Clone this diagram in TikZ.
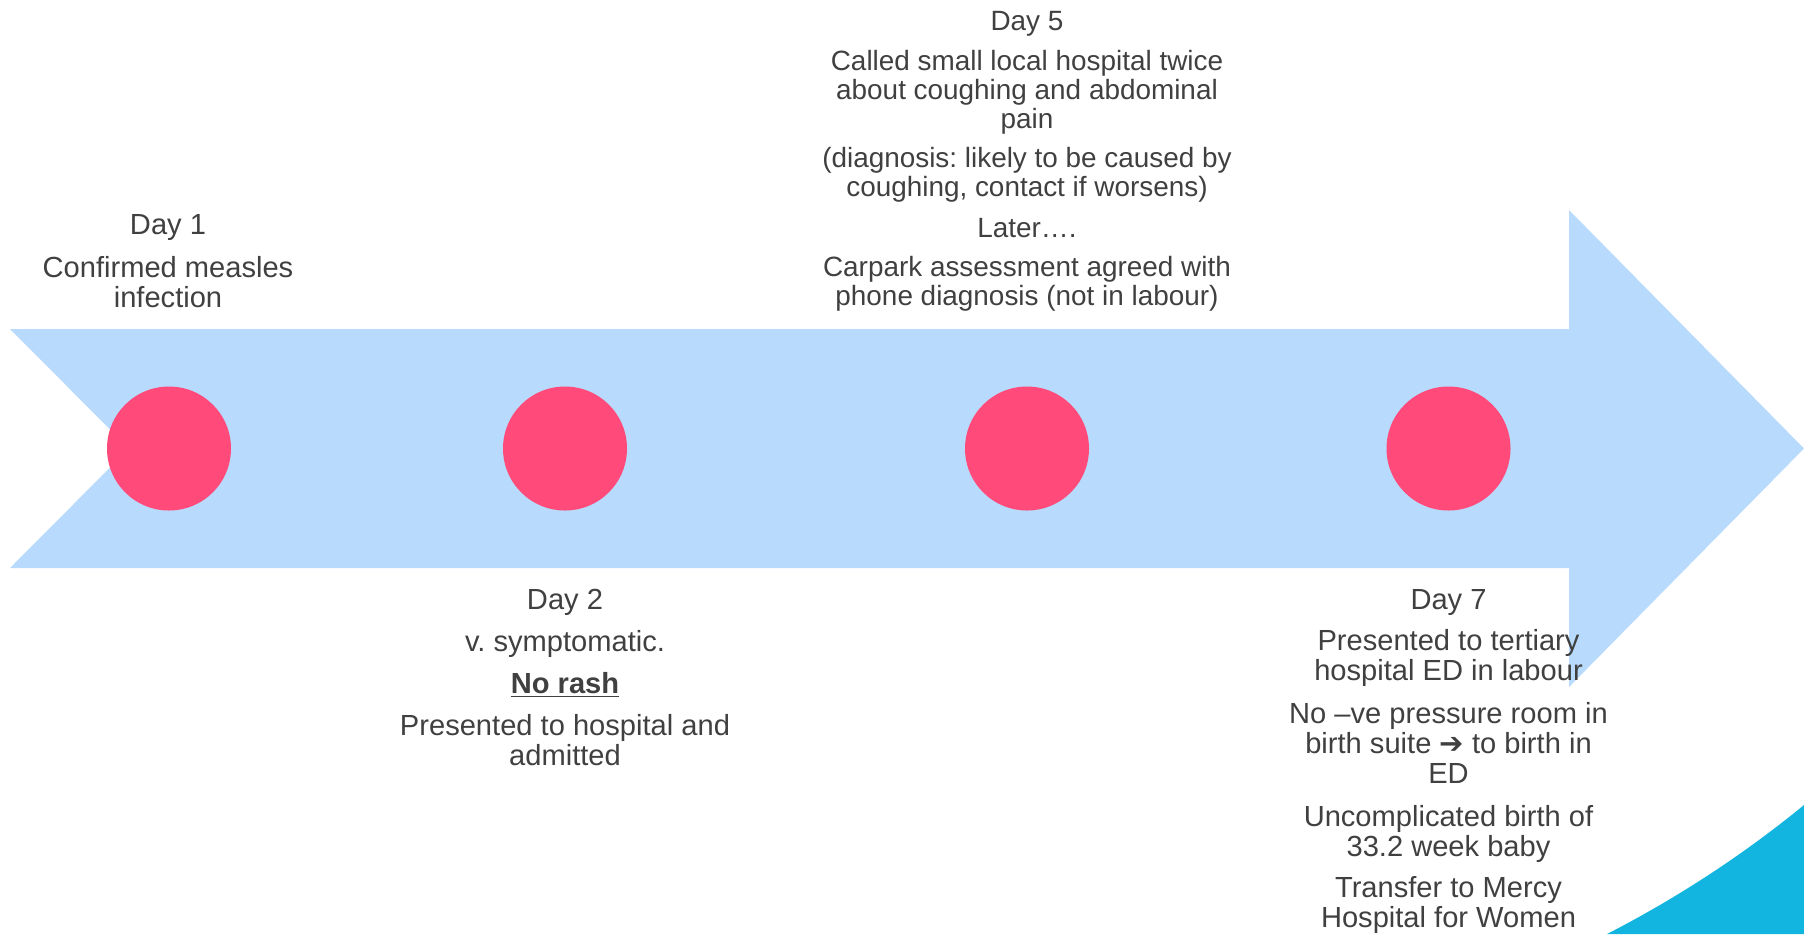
\documentclass[tikz,border=0pt]{standalone}
\usepackage{fontspec}
\setmainfont{Liberation Sans}
\newfontfamily\symfont{DejaVu Sans}
\definecolor{arrowblue}{HTML}{B8DAFC}
\definecolor{dotpink}{HTML}{FF4A7A}
\definecolor{cornercyan}{HTML}{12B4E0}
\definecolor{txtgray}{HTML}{404040}
\newcommand{\mltext}[1]{\begin{tabular}[t]{@{}c@{}}#1\end{tabular}}
\frenchspacing
\begin{document}
\begin{tikzpicture}[x=0.5pt,y=-0.5pt,
  dot/.style={circle,fill=dotpink,draw=none,minimum size=62pt,inner sep=0pt},
  big/.style={text=txtgray,font=\fontsize{14.55}{15}\selectfont,anchor=base,inner sep=0pt},
  small/.style={text=txtgray,font=\fontsize{13.95}{14.45}\selectfont,anchor=base,inner sep=0pt}]
\useasboundingbox (0,0) rectangle (1804,934);
% timeline arrow
\fill[arrowblue] (10,329) -- (1569,329) -- (1569,210) -- (1804,448.5) -- (1569,687)
  -- (1569,568) -- (10,568) -- (129,448.5) -- cycle;
% corner decoration
\fill[cornercyan] (1607,934) .. controls (1677,898) and (1743,855) .. (1804,805) -- (1804,934) -- cycle;
% milestones
\node[dot] (c1) at (169,448.5) {};
\node[dot] (c2) at (565,448.5) {};
\node[dot] (c3) at (1027,448.5) {};
\node[dot] (c4) at (1448.5,448.5) {};
% Day 1
\node[big] (d1h) at (168,234.3) {Day 1};
\node[big] (d1a) at (168,277.3) {\mltext{Confirmed measles\\infection}};
% Day 2
\node[big] (d2h) at (565,609.3) {Day 2};
\node[big] (d2a) at (565,651) {v. symptomatic.};
\node[big] (d2b) at (565,693.3) {\underline{\textbf{No rash}}};
\node[big] (d2c) at (565,735) {\mltext{Presented to hospital and\\admitted}};
% Day 5
\node[small] (d5h) at (1027,30) {Day 5};
\node[small] (d5a) at (1027,70.7) {\mltext{Called small local hospital twice\\about coughing and abdominal\\pain}};
\node[small] (d5b) at (1027,167.7) {\mltext{(diagnosis: likely to be caused by\\coughing, contact if worsens)}};
\node[small] (d5c) at (1027,237.3) {Later….};
\node[small] (d5d) at (1027,276.7) {\mltext{Carpark assessment agreed with\\phone diagnosis (not in labour)}};
% Day 7
\node[big] (d7h) at (1448.5,609.3) {Day 7};
\node[big] (d7a) at (1448.5,650.7) {\mltext{Presented to tertiary\\hospital ED in labour}};
\node[big] (d7b) at (1448.5,723) {\mltext{No –ve pressure room in\\birth suite {\symfont ➔} to birth in\\ED}};
\node[big] (d7c) at (1448.5,826.7) {\mltext{Uncomplicated birth of\\33.2 week baby}};
\node[big] (d7d) at (1448.5,897.3) {\mltext{Transfer to Mercy\\Hospital for Women}};
\end{tikzpicture}
\end{document}
